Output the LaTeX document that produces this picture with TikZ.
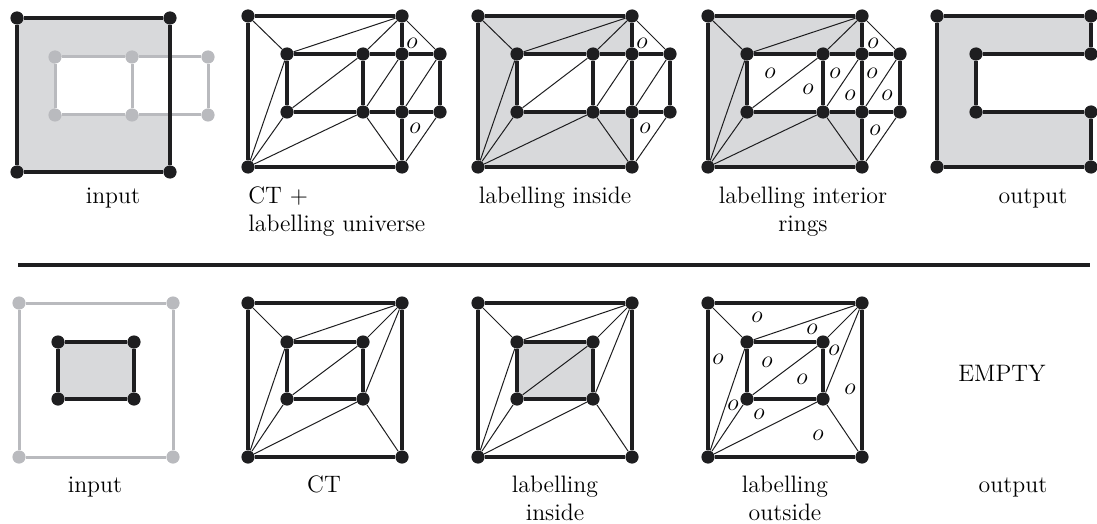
\documentclass[tikz,border=0pt]{standalone}
\usetikzlibrary{backgrounds}

\definecolor{vblack}{RGB}{30,30,32}
\definecolor{fillgrey}{RGB}{216,217,219}
\definecolor{ghost}{RGB}{185,186,190}

\tikzset{
  vtx/.style={circle, fill=vblack, inner sep=0pt, minimum size=6.6pt},
  gvtx/.style={vtx, fill=ghost},
  bold/.style={line width=1.6pt, draw=vblack},
  thin/.style={line width=0.5pt, draw=vblack},
  gline/.style={line width=1.5pt, draw=ghost},
  olab/.style={inner sep=0pt, font=\fontsize{11.5}{12}\selectfont},
  caption/.style={inner sep=0pt, font=\fontsize{11.9}{14}\selectfont}
}

% top row: outer square and the 2x4 inner grid
\newcommand{\topverts}[1]{%
  \node[vtx] (#1tl) at (0,0) {};
  \node[vtx] (#1tr) at (154,0) {};
  \node[vtx] (#1bl) at (0,151) {};
  \node[vtx] (#1br) at (154,151) {};
  \foreach \n/\x in {1/39,2/115,3/154,4/192}{
    \node[vtx] (#1a\n) at (\x,38) {};
    \node[vtx] (#1b\n) at (\x,96) {};
  }%
}
\newcommand{\topedges}[1]{%
  \draw[bold] (#1tl) -- (#1tr) -- (#1a3) -- (#1b3) -- (#1br) -- (#1bl) -- (#1tl);
  \draw[bold] (#1a1) -- (#1a2) -- (#1a3) -- (#1a4) -- (#1b4) -- (#1b3) -- (#1b2) -- (#1b1) -- (#1a1);
  \draw[bold] (#1a2) -- (#1b2);
  \draw[thin] (#1tl) -- (#1a1) -- (#1tr) -- (#1a2);
  \draw[thin] (#1tr) -- (#1a4);
  \draw[thin] (#1a1) -- (#1bl) -- (#1b1) -- (#1a2);
  \draw[thin] (#1bl) -- (#1b2) -- (#1a3);
  \draw[thin] (#1b3) -- (#1a4);
  \draw[thin] (#1b2) -- (#1br) -- (#1b4);
}

% bottom row: outer square and inner rectangle
\newcommand{\botverts}[2]{%
  \node[#2] (#1tl) at (0,0) {};
  \node[#2] (#1tr) at (154,0) {};
  \node[#2] (#1bl) at (0,154) {};
  \node[#2] (#1br) at (154,154) {};
  \node[vtx] (#1p) at (39,39) {};
  \node[vtx] (#1q) at (115,39) {};
  \node[vtx] (#1r) at (39,96) {};
  \node[vtx] (#1s) at (115,96) {};
}
\newcommand{\botedges}[1]{%
  \draw[bold] (#1tl) -- (#1tr) -- (#1br) -- (#1bl) -- (#1tl);
  \draw[bold] (#1p) -- (#1q) -- (#1s) -- (#1r) -- (#1p);
  \draw[thin] (#1tl) -- (#1p) -- (#1tr) -- (#1q);
  \draw[thin] (#1tr) -- (#1s) -- (#1br);
  \draw[thin] (#1s) -- (#1bl) -- (#1r) -- (#1q);
  \draw[thin] (#1bl) -- (#1p);
}

\begin{document}
\begin{tikzpicture}[x=0.5pt, y=-0.5pt]
\useasboundingbox (0,0) rectangle (1097,524);

%% ---------- top row ----------
% input
\node[vtx] (intl) at (17,18) {};
\node[vtx] (intr) at (170,18) {};
\node[vtx] (inbl) at (17,172) {};
\node[vtx] (inbr) at (170,172) {};
\foreach \n/\x in {1/55,2/132,3/208}{
  \node[gvtx] (ina\n) at (\x,57) {};
  \node[gvtx] (inb\n) at (\x,115) {};
}
\begin{scope}[on background layer]
  \fill[fillgrey, even odd rule] (intl.center) rectangle (inbr.center)
    (ina1.center) rectangle (intr.center |- inb1.center);
  \draw[gline] (ina1) -- (ina2) -- (ina3) -- (inb3) -- (inb2) -- (inb1) -- (ina1);
  \draw[gline] (ina2) -- (inb2);
\end{scope}
\draw[bold] (intl) -- (intr) -- (inbr) -- (inbl) -- (intl);
\node[caption, anchor=base] (capin) at (113,203) {input};

% CT + labelling universe (base = last line)
\begin{scope}[shift={(248,16)}]
  \topverts{ct}
  \topedges{ct}
  \foreach \x/\y [count=\i] in {164/27, 167/112}
    \node[olab] (cto\i) at (\x,\y) {$o$};
\end{scope}
\node[caption, anchor=base west, align=left] (capct) at (248,231)
  {CT +\\labelling universe};

% labelling inside
\begin{scope}[shift={(478,16)}]
  \topverts{li}
  \begin{scope}[on background layer]
    \fill[fillgrey, even odd rule] (litl.center) rectangle (libr.center)
      (lia1.center) rectangle (lib3.center);
  \end{scope}
  \topedges{li}
  \foreach \x/\y [count=\i] in {164/27, 167/112}
    \node[olab] (lio\i) at (\x,\y) {$o$};
\end{scope}
\node[caption, anchor=base] (capli) at (555,203) {labelling inside};

% labelling interior rings
\begin{scope}[shift={(708,16)}]
  \topverts{lr}
  \begin{scope}[on background layer]
    \fill[fillgrey, even odd rule] (lrtl.center) rectangle (lrbr.center)
      (lra1.center) rectangle (lrb3.center);
  \end{scope}
  \topedges{lr}
  \foreach \x/\y [count=\i] in {165/27, 167/114, 62/57, 100/73, 127/57,
      142/79, 164/57, 179/79}
    \node[olab] (lro\i) at (\x,\y) {$o$};
\end{scope}
\node[caption, anchor=base, align=center] (caplr) at (803,231)
  {labelling interior\\rings};

% output
\begin{scope}[shift={(937,16)}]
  \node[vtx] (ot1) at (0,0) {};
  \node[vtx] (ot2) at (154,0) {};
  \node[vtx] (ot3) at (154,38) {};
  \node[vtx] (ot4) at (39,38) {};
  \node[vtx] (ot5) at (39,96) {};
  \node[vtx] (ot6) at (154,96) {};
  \node[vtx] (ot7) at (154,151) {};
  \node[vtx] (ot8) at (0,151) {};
  \begin{scope}[on background layer]
    \fill[fillgrey] (ot1.center) -- (ot2.center) -- (ot3.center) -- (ot4.center)
      -- (ot5.center) -- (ot6.center) -- (ot7.center) -- (ot8.center) -- cycle;
  \end{scope}
  \draw[bold] (ot1) -- (ot2) -- (ot3) -- (ot4) -- (ot5) -- (ot6) -- (ot7)
    -- (ot8) -- (ot1);
\end{scope}
\node[caption, anchor=base] (capout) at (1033,203) {output};

%% separator
\coordinate (sepl) at (18,265);
\coordinate (sepr) at (1090,265);
\draw[line width=2.3pt, vblack] (sepl) -- (sepr);

%% ---------- bottom row ----------
% input
\begin{scope}[shift={(19,303)}]
  \botverts{bi}{gvtx}
  \begin{scope}[on background layer]
    \fill[fillgrey] (bip.center) rectangle (bis.center);
  \end{scope}
  \draw[gline] (bitl) -- (bitr) -- (bibr) -- (bibl) -- (bitl);
  \draw[bold] (bip) -- (biq) -- (bis) -- (bir) -- (bip);
\end{scope}
\node[caption, anchor=base] (capbi) at (95,492) {input};

% CT
\begin{scope}[shift={(248,303)}]
  \botverts{bc}{vtx}
  \botedges{bc}
\end{scope}
\node[caption, anchor=base] (capbc) at (324,492) {CT};

% labelling inside
\begin{scope}[shift={(478,303)}]
  \botverts{bl}{vtx}
  \begin{scope}[on background layer]
    \fill[fillgrey] (blp.center) rectangle (bls.center);
  \end{scope}
  \botedges{bl}
\end{scope}
\node[caption, anchor=base, align=center] (capbl) at (555,520)
  {labelling\\inside};

% labelling outside
\begin{scope}[shift={(708,303)}]
  \botverts{bo}{vtx}
  \botedges{bo}
  \foreach \x/\y [count=\i] in {49/14, 104/26, 10/56, 59/59, 126/47, 94/76,
      142/86, 25/102, 51/111, 110/132}
    \node[olab] (boo\i) at (\x,\y) {$o$};
\end{scope}
\node[caption, anchor=base, align=center] (capbo) at (785,520)
  {labelling\\outside};

% output
\node[caption] (empty) at (1002,373) {EMPTY};
\node[caption, anchor=base] (capbout) at (1013,492) {output};
\end{tikzpicture}
\end{document}
